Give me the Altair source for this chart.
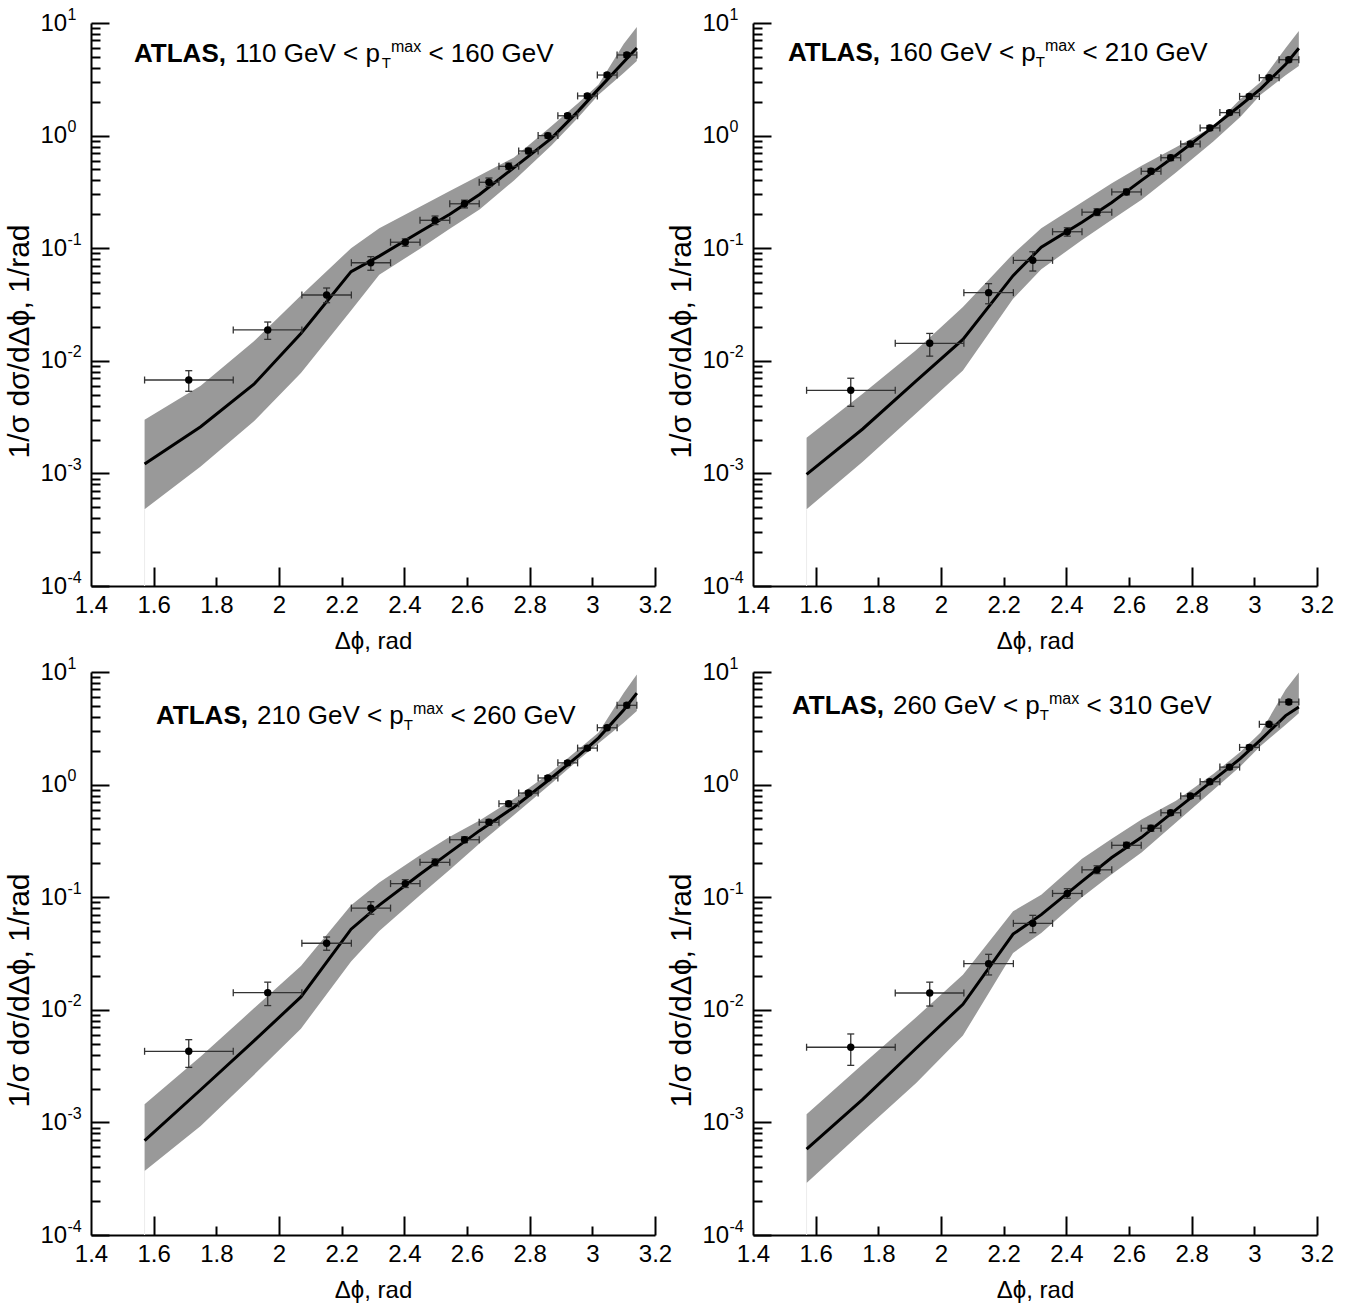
import altair as alt
import pandas as pd

# ---------------- data ----------------
BIN_LO = [1.571, 1.854, 2.073, 2.231, 2.356, 2.450, 2.545, 2.639, 2.702, 2.765, 2.827, 2.890, 2.953, 3.016, 3.079]
BIN_HI = [1.854, 2.073, 2.231, 2.356, 2.450, 2.545, 2.639, 2.702, 2.765, 2.827, 2.890, 2.953, 3.016, 3.079, 3.142]
X_PTS = [1.712, 1.964, 2.152, 2.293, 2.403, 2.498, 2.592, 2.670, 2.733, 2.796, 2.858, 2.921, 2.984, 3.047, 3.110]

PT_MIN = [110, 160, 210, 260]
PT_MAX = [160, 210, 260, 310]

# data points (value, lower error end, upper error end) per panel
Y_1 = [0.00675, 0.0188, 0.0384, 0.0743, 0.113, 0.177, 0.248, 0.385, 0.533, 0.73, 1.0, 1.5, 2.25, 3.45, 5.2]
YLO_1 = [0.00536, 0.0155, 0.0328, 0.0637, 0.104, 0.162, 0.228, 0.355, 0.50, 0.69, 0.95, 1.43, 2.15, 3.3, 4.95]
YHI_1 = [0.00817, 0.0221, 0.0443, 0.0841, 0.121, 0.193, 0.267, 0.42, 0.57, 0.77, 1.05, 1.57, 2.35, 3.6, 5.45]

Y_2 = [0.00547, 0.0143, 0.0403, 0.078, 0.140, 0.209, 0.316, 0.482, 0.636, 0.842, 1.17, 1.60, 2.23, 3.27, 4.72]
YLO_2 = [0.00394, 0.0110, 0.0321, 0.0627, 0.128, 0.195, 0.298, 0.455, 0.60, 0.80, 1.11, 1.53, 2.13, 3.13, 4.5]
YHI_2 = [0.0070, 0.0175, 0.0484, 0.093, 0.152, 0.224, 0.335, 0.51, 0.67, 0.885, 1.23, 1.67, 2.33, 3.42, 4.95]

Y_3 = [0.00428, 0.0142, 0.039, 0.080, 0.132, 0.204, 0.324, 0.463, 0.676, 0.841, 1.145, 1.56, 2.11, 3.2, 5.06]
YLO_3 = [0.00308, 0.0109, 0.0338, 0.0705, 0.122, 0.19, 0.305, 0.435, 0.64, 0.80, 1.09, 1.49, 2.02, 3.06, 4.8]
YHI_3 = [0.00543, 0.0176, 0.0443, 0.0912, 0.143, 0.219, 0.344, 0.49, 0.71, 0.88, 1.2, 1.63, 2.2, 3.35, 5.3]

Y_4 = [0.00465, 0.0141, 0.0257, 0.0586, 0.108, 0.175, 0.289, 0.41, 0.562, 0.792, 1.06, 1.43, 2.14, 3.43, 5.41]
YLO_4 = [0.00321, 0.0108, 0.0204, 0.0484, 0.098, 0.162, 0.272, 0.385, 0.535, 0.755, 1.01, 1.36, 2.04, 3.28, 5.15]
YHI_4 = [0.0061, 0.0176, 0.0311, 0.069, 0.119, 0.19, 0.307, 0.435, 0.59, 0.83, 1.11, 1.5, 2.24, 3.59, 5.68]

# theory prediction: central line and band
TH_X = [1.571, 1.75, 1.92, 2.07, 2.23, 2.32, 2.45, 2.545, 2.64, 2.75, 2.87, 2.955, 3.02, 3.10, 3.142]

MID_1 = [0.00121, 0.0026, 0.0062, 0.0175, 0.062, 0.085, 0.14, 0.20, 0.30, 0.52, 0.95, 1.65, 2.6, 4.5, 6.0]
HI_1 = [0.0030, 0.0060, 0.0149, 0.038, 0.100, 0.15, 0.234, 0.322, 0.442, 0.64, 1.22, 1.95, 2.85, 6.5, 9.2]
LO_1 = [0.00048, 0.00115, 0.0029, 0.0078, 0.028, 0.058, 0.099, 0.149, 0.221, 0.40, 0.82, 1.45, 2.3, 3.6, 4.6]

MID_2 = [0.00098, 0.00248, 0.0066, 0.0155, 0.057, 0.102, 0.17, 0.255, 0.40, 0.67, 1.2, 1.85, 2.6, 4.3, 5.96]
HI_2 = [0.00207, 0.0051, 0.0124, 0.030, 0.089, 0.15, 0.256, 0.378, 0.54, 0.79, 1.21, 2.1, 3.0, 6.0, 8.5]
LO_2 = [0.00048, 0.00127, 0.0034, 0.0082, 0.0355, 0.065, 0.118, 0.179, 0.27, 0.47, 0.89, 1.46, 2.3, 3.43, 4.15]

MID_3 = [0.00069, 0.00195, 0.0053, 0.013, 0.052, 0.085, 0.16, 0.25, 0.39, 0.63, 1.15, 1.8, 2.6, 4.6, 6.5]
HI_3 = [0.00145, 0.00384, 0.0103, 0.0245, 0.085, 0.135, 0.236, 0.345, 0.48, 0.75, 1.3, 2.05, 2.9, 6.5, 9.5]
LO_3 = [0.00037, 0.00093, 0.00264, 0.0068, 0.0268, 0.05, 0.104, 0.175, 0.30, 0.537, 1.03, 1.65, 2.33, 3.55, 4.5]

MID_4 = [0.00058, 0.0016, 0.00453, 0.0112, 0.047, 0.07, 0.138, 0.225, 0.34, 0.6, 1.1, 1.7, 2.5, 4.1, 4.89]
HI_4 = [0.00118, 0.00328, 0.00854, 0.0205, 0.075, 0.105, 0.22, 0.33, 0.49, 0.72, 1.25, 1.95, 2.9, 7.0, 9.9]
LO_4 = [0.00029, 0.00083, 0.00223, 0.0059, 0.032, 0.048, 0.1, 0.16, 0.25, 0.46, 0.9, 1.45, 2.2, 3.4, 4.3]

Y_PTS = [Y_1, Y_2, Y_3, Y_4]
Y_LO = [YLO_1, YLO_2, YLO_3, YLO_4]
Y_HI = [YHI_1, YHI_2, YHI_3, YHI_4]
TH_MID = [MID_1, MID_2, MID_3, MID_4]
TH_HI = [HI_1, HI_2, HI_3, HI_4]
TH_LO = [LO_1, LO_2, LO_3, LO_4]

# tick values
X_LABELS = [1.4, 1.6, 1.8, 2.0, 2.2, 2.4, 2.6, 2.8, 3.0, 3.2]
X_MAJOR = [1.6, 2.0, 2.4, 2.8, 3.2]
X_MINOR = [1.8, 2.2, 2.6, 3.0]
Y_DECADES = [0.0001, 0.001, 0.01, 0.1, 1.0, 10.0]
Y_MINOR = [m * d for d in Y_DECADES[:-1] for m in range(2, 10)]
Y_FLOOR = 0.0001

# ---------------- styling ----------------
FONT = "Liberation Sans"
W, H = 564, 563
TITLE_POS = [(43, 39), (35, 38), (65, 52), (39, 42)]
NB = "\u00a0"
Y_TITLE = f"1/σ{NB}dσ/dΔϕ,{NB}1/rad"

REG = {' ': 278, 'G': 778, 'e': 556, 'V': 667, '<': 584, 'p': 556, 'T': 611,
       'm': 833, 'a': 556, 'x': 500, ',': 278}
BOLD = {'A': 722, 'T': 611, 'L': 611, 'S': 667, ',': 278}


def text_w(s, size, bold=False):
    table = BOLD if bold else REG
    return sum(table.get(c, 556) for c in s) * size / 1000.0


xs = alt.Scale(type='linear', domain=[1.4, 3.2], nice=False, zero=False)
ys = alt.Scale(type='log', domain=[0.0001, 10], nice=False)

tick_common = dict(labels=False, domain=False, grid=False, title=None,
                   ticks=True, tickColor='black')

ax_x_labels = alt.Axis(orient='bottom', values=X_LABELS, format='~g', ticks=False, tickSize=0,
                       domain=True, domainColor='black', domainWidth=2,
                       labelFontSize=24, labelPadding=7, labelFlush=False, labelOverlap=False,
                       labelColor='black', labelFont=FONT, grid=False,
                       title='Δϕ, rad', titleFont=FONT, titleFontSize=24, titleFontWeight='normal',
                       titleColor='black', titleX=282, titleY=55, titleBaseline='middle',
                       titleAlign='center')
ax_y_labels = alt.Axis(orient='left', values=Y_DECADES, labelExpr="'10'", ticks=False, tickSize=0,
                       domain=True, domainColor='black', domainWidth=2,
                       labelAlign='left', labelBaseline='middle', labelPadding=51,
                       labelFontSize=24, labelOverlap=False, labelFlush=False,
                       labelColor='black', labelFont=FONT, grid=False,
                       title=Y_TITLE, titleFont=FONT, titleFontSize=30,
                       titleFontWeight='normal', titleColor='black',
                       titleX=-72, titleY=318, titleAngle=270, titleBaseline='middle',
                       titleAlign='center')
ax_y_exp = alt.Axis(orient='left', values=Y_DECADES,
                    labelExpr="'' + round(log(datum.value) / LN10)",
                    ticks=False, tickSize=0, domain=False,
                    labelAlign='left', labelBaseline='middle', labelPadding=24, labelOffset=-9,
                    labelFontSize=16, labelOverlap=False, labelFlush=False,
                    labelColor='black', labelFont=FONT, grid=False, title=None)
ax_y_major = alt.Axis(orient='right', offset=-W, values=Y_DECADES, tickSize=18, tickWidth=2,
                      **tick_common)
ax_y_minor = alt.Axis(orient='right', offset=-W, values=Y_MINOR, tickSize=9, tickWidth=2,
                      **tick_common)
ax_x_major = alt.Axis(orient='top', offset=-H, values=X_MAJOR, tickSize=19, tickWidth=2,
                      **tick_common)
ax_x_minor = alt.Axis(orient='top', offset=-H, values=X_MINOR, tickSize=9, tickWidth=2,
                      **tick_common)

ERR_COLOR = '#333333'


def title_layers(k):
    x0, y0 = TITLE_POS[k]
    big, sub, sup = 26, 15, 16
    pieces = []
    x = x0
    pieces.append(("ATLAS,", x, y0, big, 'bold'))
    x += text_w("ATLAS,", big, True) + text_w(" ", big)
    t2 = f"{PT_MIN[k]} GeV < p"
    pieces.append((t2, x, y0, big, 'normal'))
    x += text_w(t2, big)
    pieces.append(("T", x, y0 + 6, sub, 'normal'))
    x += text_w("T", sub)
    pieces.append(("max", x, y0 - 10, sup, 'normal'))
    x += text_w("max", sup) + text_w(" ", big)
    t5 = f"< {PT_MAX[k]} GeV"
    pieces.append((t5, x, y0, big, 'normal'))
    layers = []
    for txt, px, py, fs, fw in pieces:
        layers.append(
            alt.Chart(pd.DataFrame({'t': [txt]})).mark_text(
                align='left', baseline='alphabetic', font=FONT, fontSize=fs,
                fontWeight=fw, color='black'
            ).encode(x=alt.value(px), y=alt.value(py), text='t:N')
        )
    return layers


def make_panel(k):
    pts = pd.DataFrame({'x': X_PTS, 'xlo': BIN_LO, 'xhi': BIN_HI,
                        'y': Y_PTS[k], 'ylo': Y_LO[k], 'yhi': Y_HI[k]})
    th = pd.DataFrame({'x': TH_X, 'mid': TH_MID[k], 'lo': TH_LO[k], 'hi': TH_HI[k]})
    edge = pd.DataFrame({'x': [TH_X[0]], 'lo': [TH_LO[k][0]], 'floor': [Y_FLOOR]})

    band = alt.Chart(th).mark_area(color='#999999', opacity=1).encode(
        x=alt.X('x:Q', scale=xs, axis=ax_x_labels),
        y=alt.Y('hi:Q', scale=ys, axis=ax_y_labels),
        y2='lo:Q')
    faint = alt.Chart(edge).mark_rule(color='#ececec', strokeWidth=1).encode(
        x=alt.X('x:Q', scale=xs, axis=None),
        y=alt.Y('floor:Q', scale=ys, axis=None), y2='lo:Q')
    line = alt.Chart(th).mark_line(color='black', strokeWidth=3).encode(
        x=alt.X('x:Q', scale=xs, axis=ax_x_major),
        y=alt.Y('mid:Q', scale=ys, axis=ax_y_exp))
    xerr = alt.Chart(pts).mark_rule(color=ERR_COLOR, strokeWidth=1.3).encode(
        x=alt.X('xlo:Q', scale=xs, axis=ax_x_minor), x2='xhi:Q',
        y=alt.Y('y:Q', scale=ys, axis=ax_y_major))
    yerr = alt.Chart(pts).mark_rule(color=ERR_COLOR, strokeWidth=1.3).encode(
        x=alt.X('x:Q', scale=xs, axis=None),
        y=alt.Y('ylo:Q', scale=ys, axis=ax_y_minor), y2='yhi:Q')
    xcap_lo = alt.Chart(pts).mark_tick(orient='vertical', size=7, thickness=1.3,
                                       color=ERR_COLOR, opacity=1).encode(
        x=alt.X('xlo:Q', scale=xs, axis=None), y=alt.Y('y:Q', scale=ys, axis=None))
    xcap_hi = alt.Chart(pts).mark_tick(orient='vertical', size=7, thickness=1.3,
                                       color=ERR_COLOR, opacity=1).encode(
        x=alt.X('xhi:Q', scale=xs, axis=None), y=alt.Y('y:Q', scale=ys, axis=None))
    ycap_lo = alt.Chart(pts).mark_tick(orient='horizontal', size=7, thickness=1.3,
                                       color=ERR_COLOR, opacity=1).encode(
        x=alt.X('x:Q', scale=xs, axis=None), y=alt.Y('ylo:Q', scale=ys, axis=None))
    ycap_hi = alt.Chart(pts).mark_tick(orient='horizontal', size=7, thickness=1.3,
                                       color=ERR_COLOR, opacity=1).encode(
        x=alt.X('x:Q', scale=xs, axis=None), y=alt.Y('yhi:Q', scale=ys, axis=None))
    points = alt.Chart(pts).mark_circle(size=55, color='black', opacity=1).encode(
        x=alt.X('x:Q', scale=xs, axis=None), y=alt.Y('y:Q', scale=ys, axis=None))

    layers = [band, faint, line, xerr, yerr, xcap_lo, xcap_hi, ycap_lo, ycap_hi,
              points] + title_layers(k)
    return alt.layer(*layers).resolve_axis(x='independent', y='independent').properties(
        width=W, height=H)


chart = alt.concat(
    make_panel(0), make_panel(1), make_panel(2), make_panel(3),
    columns=2, spacing={'row': 86, 'column': 98}, bounds='flush'
).properties(
    padding={'left': 3, 'top': 5, 'right': 5, 'bottom': 5}
).configure(font=FONT).configure_view(stroke='transparent')

chart.save("out.html", embed_options={"renderer": "svg", "actions": False})
